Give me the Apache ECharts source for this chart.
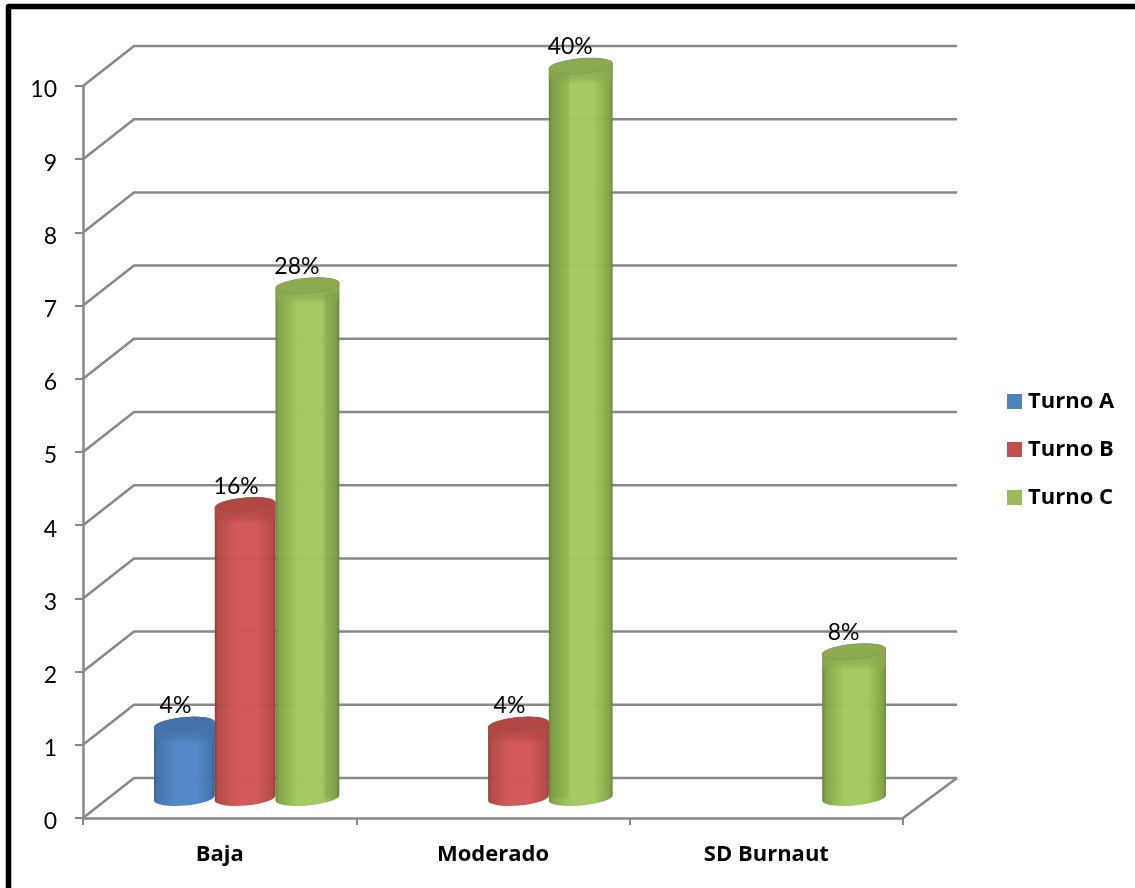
<!DOCTYPE html>
<html>
<head>
<meta charset="utf-8">
<style>html,body{margin:0;padding:0;background:#fff}#chart{width:1135px;height:888px}</style>
<script src="https://cdn.jsdelivr.net/npm/echarts@6/dist/echarts.min.js"></script>
</head>
<body>
<div id="chart"></div>
<script>
// Burnout level counts per shift
const categories = ['Baja', 'Moderado', 'SD Burnaut'];
const turnoA = [1, 0, 0];
const turnoB = [4, 1, 0];
const turnoC = [7, 10, 2];
const yTicks = [0, 1, 2, 3, 4, 5, 6, 7, 8, 9, 10];

const totalCases = [...turnoA, ...turnoB, ...turnoC].reduce((a, b) => a + b, 0);

// Oblique projection of the chart box
const DEPTH_X = 51, DEPTH_Y = -40, DEPTH_X_FAR = 54;
const GRID = '#888888';
const FONT = 'Lato, Carlito, sans-serif';
const FONT_BOLD = '"Open Sans", Lato, sans-serif';

const palettes = {
  'Turno A': { legend: '#4f81bd', edge: '#3f70ab', mid: '#4f86c6', cap: '#4272ad', shade: '#30598c' },
  'Turno B': { legend: '#c0504d', edge: '#b34744', mid: '#d05655', cap: '#b24643', shade: '#8e3533' },
  'Turno C': { legend: '#9bbb59', edge: '#82a245', mid: '#a3c95f', cap: '#8cab4e', shade: '#63803a' }
};

// Side shading on the tall front cylinders: [from, to] across the width, by category
const sideBands = { 2: { 0: [0.77, 1], 1: [0, 0.31] } };

// Back wall, side wall and floor rules, one set per value tick
function renderWall(params, api) {
  const v = api.value(0);
  const front = api.coord([0, v]);
  const rect = params.coordSys;
  const x0 = rect.x, x1 = rect.x + rect.width;
  const y = front[1];
  const style = { stroke: GRID, lineWidth: 2.5, fill: null };
  const shapeBack = [[x0, y], [x0 + DEPTH_X, y + DEPTH_Y], [x1 + DEPTH_X_FAR, y + DEPTH_Y]];
  const children = [{ type: 'polyline', shape: { points: shapeBack }, style }];
  if (v === 0) {
    children.push({ type: 'line', shape: { x1: x1, y1: y, x2: x1 + DEPTH_X_FAR, y2: y + DEPTH_Y }, style });
  }
  return { type: 'group', children };
}

// Cylinder standing half way into the depth of the box
function renderCylinder(seriesIndex, name) {
  const pal = palettes[name];
  return function (params, api) {
    const cat = api.value(0), val = api.value(1);
    if (!val) return null;
    const band = api.size([1, 0])[0];
    const w = band / 4.5;
    const base = api.coord([cat, 0]);
    const top = api.coord([cat, val]);
    const front = seriesIndex === 2;
    const cx = base[0] + (seriesIndex - 1) * w + DEPTH_X / 2 + (front ? 1.5 : 0);
    const cw = front ? w + 3 : w;
    const yb = base[1] + DEPTH_Y / 2;
    const yt = top[1] + DEPTH_Y / 2;
    const rx = cw / 2, ry = 7.5, rot = -5, lift = rx * Math.tan(rot * Math.PI / 180);
    const L = cx - rx, R = cx + rx;
    const body = `M${L} ${yt - lift} L${L} ${yb - lift} A${rx} ${ry} ${rot} 0 0 ${R} ${yb + lift} L${R} ${yt + lift} A${rx} ${ry} ${rot} 0 0 ${L} ${yt - lift} Z`;
    const capPath = `M${L} ${yt - lift} A${rx} ${ry} ${rot} 1 1 ${R} ${yt + lift} A${rx} ${ry} ${rot} 1 1 ${L} ${yt - lift} Z`;
    const bodyFill = {
      type: 'linear', x: 0, y: 0, x2: 1, y2: 0,
      colorStops: [
        { offset: 0, color: pal.shade }, { offset: 0.05, color: pal.edge },
        { offset: 0.35, color: pal.mid }, { offset: 0.7, color: pal.mid },
        { offset: 0.95, color: pal.edge }, { offset: 1, color: pal.shade }
      ]
    };
    const collarDepth = Math.min(26 / (yb - yt + ry * 2), 0.5);
    const collarFill = {
      type: 'linear', x: 0, y: 0, x2: 0, y2: 1,
      colorStops: [
        { offset: 0, color: pal.cap }, { offset: collarDepth * 0.75, color: pal.cap + 'aa' },
        { offset: collarDepth, color: pal.cap + '00' }, { offset: 1, color: pal.cap + '00' }
      ]
    };
    const children = [
      { type: 'path', shape: { pathData: body }, style: { fill: bodyFill, opacity: 0.975 } },
      { type: 'path', shape: { pathData: body }, style: { fill: collarFill } }
    ];
    const side = sideBands[seriesIndex] && sideBands[seriesIndex][cat];
    if (side) {
      const a = L + side[0] * cw, b = L + side[1] * cw;
      children.push({
        type: 'rect',
        shape: { x: a, y: yt + ry, width: b - a, height: yb - yt - ry },
        style: { fill: pal.shade, opacity: 0.16 }
      });
    }
    children.push(
      { type: 'path', shape: { pathData: capPath }, style: { fill: pal.cap, stroke: 'rgba(120,120,120,0.35)', lineWidth: 1 } },
      {
        type: 'text',
        style: {
          x: cx - 9 - (front ? 1.5 : 0), y: yt - 19,
          text: Math.round(val / totalCases * 100) + '%',
          font: '23px ' + FONT, fill: '#000', align: 'center', verticalAlign: 'middle'
        }
      }
    );
    return { type: 'group', children };
  };
}

const seriesData = { 'Turno A': turnoA, 'Turno B': turnoB, 'Turno C': turnoC };

const chart = echarts.init(document.getElementById('chart'), null, { renderer: 'canvas' });
chart.setOption({
  animation: false,
  backgroundColor: '#fff',
  textStyle: { fontFamily: FONT },
  grid: { left: 83, right: 232, top: 86, bottom: 70 },
  legend: {
    orient: 'vertical', left: 1007, top: 389, padding: 0, itemWidth: 15, itemHeight: 15, itemGap: 23,
    icon: 'rect', selectedMode: false,
    data: Object.keys(palettes),
    textStyle: { fontFamily: FONT_BOLD, fontWeight: 'bold', fontSize: 22, lineHeight: 22, color: '#000', padding: [3, 0, 0, 1] }
  },
  xAxis: {
    type: 'category', data: categories, boundaryGap: true,
    axisLine: { lineStyle: { color: GRID, width: 2.5 } },
    axisTick: { show: true, alignWithLabel: false, length: 7, lineStyle: { color: GRID, width: 2 } },
    axisLabel: { color: '#000', fontWeight: 'bold', fontSize: 22, fontFamily: FONT_BOLD, margin: 26 }
  },
  yAxis: {
    type: 'value', min: 0, max: 10, interval: 1,
    axisLine: { show: true, lineStyle: { color: GRID, width: 2.5 } },
    axisTick: { show: true, length: 8, lineStyle: { color: GRID, width: 2 } },
    axisLabel: { color: '#000', fontSize: 23, fontFamily: FONT, margin: 26, verticalAlign: 'top', lineHeight: 8 },
    splitLine: { show: false }
  },
  graphic: [{
    type: 'polyline', silent: true,
    shape: { points: [[8.5, 888], [8.5, 6.5], [1135, 6.5]] },
    style: { fill: null, stroke: '#000', lineWidth: 5.5, lineJoin: 'round' }
  }],
  series: [
    {
      type: 'custom', name: 'wall', coordinateSystem: 'cartesian2d', silent: true, z: 1, clip: false,
      renderItem: renderWall,
      encode: { y: 0 },
      data: yTicks.map(v => [v])
    },
    ...Object.keys(seriesData).map((name, i) => ({
      type: 'custom', name, coordinateSystem: 'cartesian2d', z: 3 + i, clip: false,
      itemStyle: { color: palettes[name].legend },
      renderItem: renderCylinder(i, name),
      encode: { x: 0, y: 1 },
      data: seriesData[name].map((v, c) => [c, v])
    }))
  ]
});
</script>
</body>
</html>
